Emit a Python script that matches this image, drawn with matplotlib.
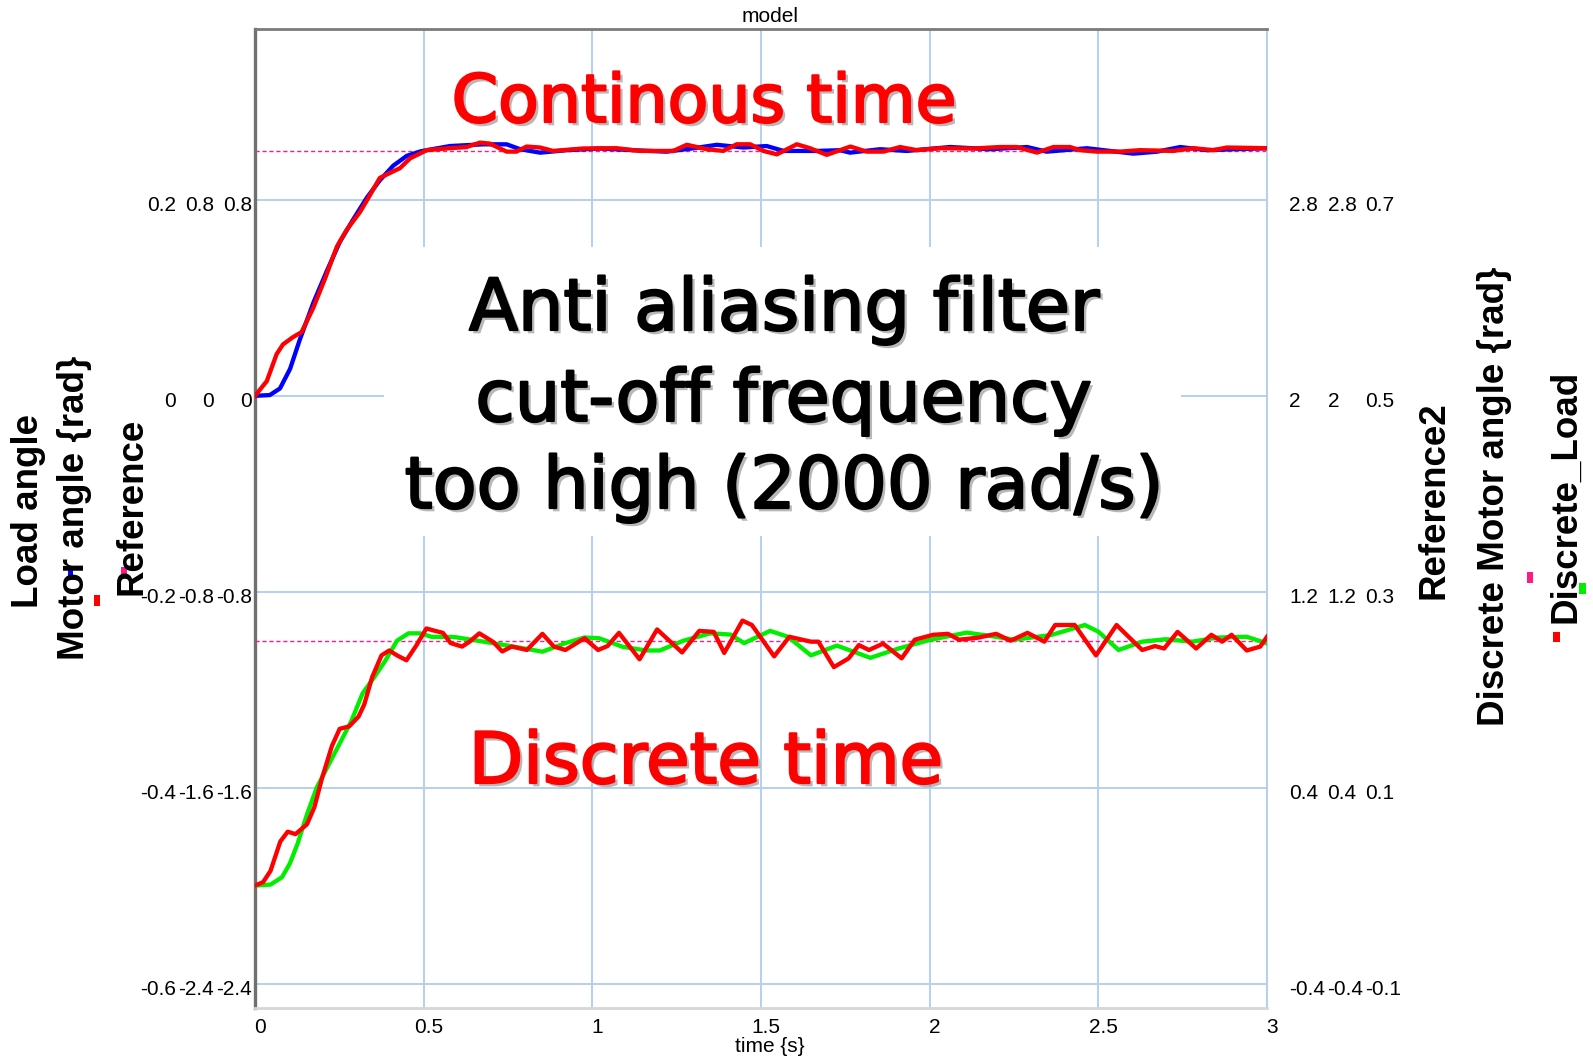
import numpy as np
import matplotlib
matplotlib.use("Agg")
import matplotlib.pyplot as plt
from matplotlib import patheffects as pe
from matplotlib.patches import Rectangle
from matplotlib.transforms import ScaledTranslation

plt.rcParams['font.family'] = ['Liberation Sans', 'DejaVu Sans']

# ---------------- data ----------------
time_ticks = [0, 0.5, 1, 1.5, 2, 2.5, 3]
load_ticks = [0.2, 0, -0.2, -0.4, -0.6]
motor_ticks = [0.8, 0, -0.8, -1.6, -2.4]
ref_ticks = [0.8, 0, -0.8, -1.6, -2.4]
ref2_ticks = [2.8, 2, 1.2, 0.4, -0.4]
dmotor_ticks = [2.8, 2, 1.2, 0.4, -0.4]
dload_ticks = [0.7, 0.5, 0.3, 0.1, -0.1]

# continuous time
t_motor = [0.000, 0.044, 0.074, 0.104, 0.133, 0.173, 0.213, 0.252, 0.291, 0.332,
           0.370, 0.410, 0.450, 0.490, 0.509, 0.578, 0.677, 0.746, 0.786, 0.845,
           0.924, 1.023, 1.122, 1.220, 1.300, 1.369, 1.448, 1.517, 1.567, 1.666,
           1.734, 1.764, 1.853, 1.932, 2.061, 2.180, 2.289, 2.347, 2.466, 2.604,
           2.674, 2.743, 2.822, 2.901, 3.000]
motor_angle = [0.000, 0.003, 0.030, 0.110, 0.230, 0.380, 0.510, 0.630, 0.720, 0.810,
               0.880, 0.940, 0.980, 0.998, 1.003, 1.020, 1.027, 1.027, 1.007, 0.993,
               1.003, 1.010, 1.003, 0.997, 1.011, 1.025, 1.014, 1.020, 1.000, 1.000,
               1.003, 0.993, 1.007, 1.000, 1.016, 1.007, 1.016, 0.997, 1.011, 0.989,
               0.997, 1.016, 1.003, 1.007, 1.011]

t_load = [0.000, 0.035, 0.064, 0.083, 0.113, 0.138, 0.173, 0.208, 0.243, 0.273,
          0.311, 0.341, 0.370, 0.400, 0.430, 0.460, 0.490, 0.509, 0.578, 0.627,
          0.667, 0.696, 0.746, 0.775, 0.805, 0.845, 0.884, 0.973, 1.072, 1.141,
          1.240, 1.280, 1.339, 1.388, 1.428, 1.468, 1.507, 1.547, 1.606, 1.645,
          1.695, 1.765, 1.813, 1.863, 1.912, 1.962, 2.031, 2.130, 2.209, 2.258,
          2.318, 2.367, 2.416, 2.446, 2.495, 2.564, 2.623, 2.722, 2.782, 2.841,
          2.881, 3.000]
load_angle = [0.0000, 0.0150, 0.0425, 0.0525, 0.0600, 0.0650, 0.0900, 0.1200, 0.1525, 0.1700,
              0.1875, 0.2050, 0.2225, 0.2275, 0.2325, 0.2425, 0.2475, 0.2508, 0.2528, 0.2540,
              0.2585, 0.2575, 0.2493, 0.2493, 0.2545, 0.2535, 0.2500, 0.2525, 0.2528, 0.2500,
              0.2500, 0.2563, 0.2518, 0.2500, 0.2568, 0.2568, 0.2500, 0.2465, 0.2568, 0.2528,
              0.2460, 0.2545, 0.2493, 0.2493, 0.2540, 0.2508, 0.2528, 0.2525, 0.2540, 0.2540,
              0.2483, 0.2540, 0.2540, 0.2508, 0.2493, 0.2493, 0.2508, 0.2500, 0.2528, 0.2508,
              0.2535, 0.2528]

t_ref = [0.0, 3.0]
reference = [1.0, 1.0]
reference2 = [1.0, 1.0]

# discrete time
t_dmotor = [0.000, 0.046, 0.080, 0.103, 0.126, 0.154, 0.183, 0.217, 0.251, 0.285,
            0.319, 0.353, 0.387, 0.421, 0.455, 0.489, 0.523, 0.591, 0.660, 0.750,
            0.852, 0.920, 0.977, 1.020, 1.090, 1.160, 1.200, 1.270, 1.350, 1.410,
            1.450, 1.527, 1.580, 1.648, 1.725, 1.824, 1.910, 2.000, 2.110, 2.196,
            2.250, 2.360, 2.460, 2.500, 2.560, 2.630, 2.700, 2.778, 2.855, 2.940,
            3.000]
discrete_motor = [0.000, 0.004, 0.034, 0.089, 0.170, 0.290, 0.400, 0.490, 0.580, 0.670,
                  0.785, 0.850, 0.920, 1.000, 1.030, 1.030, 1.016, 1.015, 1.000, 0.980,
                  0.955, 0.990, 1.013, 1.010, 0.975, 0.960, 0.960, 1.000, 1.030, 1.025,
                  0.990, 1.040, 1.016, 0.940, 0.980, 0.930, 0.969, 1.003, 1.033, 1.016,
                  1.004, 1.023, 1.064, 1.037, 0.962, 0.996, 1.006, 0.996, 1.013, 1.016,
                  0.989]

t_dload = [0.000, 0.024, 0.046, 0.075, 0.097, 0.120, 0.154, 0.176, 0.199, 0.228,
           0.251, 0.279, 0.307, 0.324, 0.347, 0.375, 0.398, 0.421, 0.449, 0.478,
           0.508, 0.534, 0.557, 0.580, 0.614, 0.636, 0.665, 0.705, 0.733, 0.761,
           0.806, 0.852, 0.886, 0.920, 0.977, 1.017, 1.045, 1.079, 1.140, 1.192,
           1.266, 1.317, 1.360, 1.391, 1.445, 1.473, 1.539, 1.584, 1.648, 1.670,
           1.716, 1.760, 1.790, 1.820, 1.862, 1.917, 1.956, 2.010, 2.054, 2.087,
           2.142, 2.197, 2.240, 2.290, 2.340, 2.372, 2.430, 2.493, 2.554, 2.630,
           2.668, 2.695, 2.735, 2.790, 2.835, 2.867, 2.895, 2.940, 2.980, 3.000]
discrete_load = [0.0000, 0.0035, 0.0150, 0.0450, 0.0550, 0.0525, 0.0625, 0.0800, 0.1100, 0.1425,
                 0.1600, 0.1625, 0.1725, 0.1850, 0.2125, 0.2350, 0.2400, 0.2350, 0.2300, 0.2450,
                 0.2625, 0.2600, 0.2580, 0.2475, 0.2440, 0.2490, 0.2575, 0.2490, 0.2390, 0.2440,
                 0.2405, 0.2570, 0.2440, 0.2405, 0.2525, 0.2405, 0.2445, 0.2580, 0.2310, 0.2615,
                 0.2380, 0.2600, 0.2590, 0.2375, 0.2705, 0.2660, 0.2340, 0.2540, 0.2490, 0.2490,
                 0.2230, 0.2320, 0.2455, 0.2405, 0.2470, 0.2320, 0.2510, 0.2560, 0.2570, 0.2510,
                 0.2530, 0.2570, 0.2500, 0.2580, 0.2490, 0.2660, 0.2660, 0.2350, 0.2660, 0.2405,
                 0.2445, 0.2420, 0.2590, 0.2420, 0.2560, 0.2490, 0.2560, 0.2400, 0.2440, 0.2540]

# ---------------- styling ----------------
W, H = 1593, 1059
L, R, T, B = 255, 1267, 28.5, 1008
GRID = '#b3cff0'
BLUE, RED, GREEN, PINK = '#0000ff', '#ff0000', '#00ee00', '#ff1a86'
LW = 3.1
TICK_FS = 15

fig = plt.figure(figsize=(W / 100, H / 100), dpi=100)
fig.patch.set_facecolor('white')
ax = fig.add_axes([L / W, 1 - B / H, (R - L) / W, (B - T) / H])


def fmt(vals):
    return [f"{v:g}" for v in vals]


ax.set_xlim(0, 3)
ax.set_ylim(-2.5, 1.5)
ax.set_xticks(time_ticks, fmt(time_ticks))
ax.set_yticks(ref_ticks, fmt(ref_ticks))
ax.grid(True, color=GRID, lw=1.4)
ax.set_axisbelow(True)
ax.tick_params(axis='both', length=0, labelsize=TICK_FS)
ax.tick_params(axis='y', pad=2.2)
ax.tick_params(axis='x', pad=7)
ax.spines['left'].set_color('#707070')
ax.spines['left'].set_linewidth(2.4)
ax.spines['top'].set_color('#7a7a7a')
ax.spines['top'].set_linewidth(2.0)
ax.spines['bottom'].set_color('#d6d6d6')
ax.spines['bottom'].set_linewidth(2.0)
ax.spines['right'].set_color(GRID)
ax.spines['right'].set_linewidth(1.4)

ax.plot(t_ref, reference, color=PINK, lw=1.0, dashes=(3, 2))


def make_twin(ylim, ticks, side, pad):
    a = ax.twinx()
    a.set_ylim(*ylim)
    a.set_yticks(ticks, fmt(ticks))
    if side == 'left':
        a.yaxis.tick_left()
    else:
        a.yaxis.tick_right()
    a.tick_params(axis='y', length=0, labelsize=TICK_FS, pad=pad)
    for s in a.spines.values():
        s.set_visible(False)
    a.patch.set_visible(False)
    return a


ax_ref2 = make_twin((-0.5, 3.5), ref2_ticks, 'right', 16.0)
ax_ref2.plot(t_ref, reference2, color=PINK, lw=1.0, dashes=(3, 2))

ax_motor = make_twin((-2.5, 1.5), motor_ticks, 'left', 29.5)
ax_motor.plot(t_motor, motor_angle, color=BLUE, lw=LW, solid_joinstyle='round')

ax_load = make_twin((-0.625, 0.375), load_ticks, 'left', 56.9)
ax_load.plot(t_load, load_angle, color=RED, lw=LW, solid_joinstyle='round')

ax_dmotor = make_twin((-0.5, 3.5), dmotor_ticks, 'right', 43.6)
ax_dmotor.plot(t_dmotor, discrete_motor, color=GREEN, lw=LW, solid_joinstyle='round')

ax_dload = make_twin((-0.125, 0.875), dload_ticks, 'right', 71.0)
ax_dload.plot(t_dload, discrete_load, color=RED, lw=LW, solid_joinstyle='round')

# small offset of tick labels (down / right), as in the original rendering
for a in [ax, ax_ref2, ax_motor, ax_load, ax_dmotor, ax_dload]:
    for lbl in a.yaxis.get_ticklabels():
        lbl.set_transform(lbl.get_transform() + ScaledTranslation(0, -4 / 100, fig.dpi_scale_trans))
for lbl in ax.xaxis.get_ticklabels():
    lbl.set_transform(lbl.get_transform() + ScaledTranslation(5 / 100, 0, fig.dpi_scale_trans))

ax.set_xlabel('time {s}', fontsize=TICK_FS)
ax.xaxis.label.set_va('center')
ax.xaxis.set_label_coords((770 - L) / (R - L), -(1046 - B) / (B - T))

fig.text(770 / W, 1 - 17 / H, 'model', ha='center', va='center', fontsize=TICK_FS)


def fx(x):
    return x / W


def fy(y):
    return 1 - y / H


# axis titles
lab_kw = dict(rotation=90, ha='center', va='center', fontsize=26.5, fontweight='bold')
fig.text(fx(29), fy(511), 'Load angle', **lab_kw)
fig.text(fx(75), fy(508), 'Motor angle {rad}', **lab_kw)
fig.text(fx(132), fy(506), 'Reference', **lab_kw)
fig.text(fx(1434), fy(500), 'Reference2', **lab_kw)
fig.text(fx(1495), fy(496), 'Discrete Motor angle {rad}', **lab_kw)
fig.text(fx(1566), fy(496), 'Discrete_Load', **lab_kw)

# legend swatches
for (x0, y0, x1, y1, c) in [(68, 570, 73, 578, BLUE), (94, 595, 100, 606, RED),
                            (121, 567, 127, 578, PINK), (1527, 572, 1533, 583, PINK),
                            (1579, 583, 1586, 594, GREEN), (1553, 632, 1560, 642, RED)]:
    fig.add_artist(Rectangle((fx(x0), fy(y1)), (x1 - x0) / W, (y1 - y0) / H,
                             transform=fig.transFigure, color=c, lw=0))

# white panel behind the annotation
fig.add_artist(Rectangle((fx(384), fy(536)), (1181 - 384) / W, (536 - 247) / H,
                         transform=fig.transFigure, facecolor='white', edgecolor='none', zorder=1))


def shadow(color):
    return [pe.SimplePatchShadow(offset=(2.4, -2.4), shadow_rgbFace='#9a9a9a', alpha=0.7),
            pe.withStroke(linewidth=1.6, foreground=color)]


big = dict(family='DejaVu Sans', ha='center', va='baseline', zorder=5)

t_cont = fig.text(fx(704), fy(122), 'Continous time', color=RED, fontsize=50,
                  path_effects=shadow(RED), **big)
t_disc = fig.text(fx(706), fy(783), 'Discrete time', color=RED, fontsize=50,
                  path_effects=shadow(RED), **big)
lines = ['Anti aliasing filter', 'cut-off frequency', 'too high (2000 rad/s)']
bases = [330, 421, 508]
t_anti = [fig.text(fx(784), fy(b), s, color='black', fontsize=50,
                   path_effects=shadow('black'), **big)
          for s, b in zip(lines, bases)]

renderer = fig.canvas.get_renderer()


def fit(txts, targets):
    widths = [t.get_window_extent(renderer).width for t in txts]
    k = sum(targets) / sum(widths)
    for t in txts:
        t.set_fontsize(t.get_fontsize() * k)


fit([t_cont], [505])
fit([t_disc], [475])
fit(t_anti, [632, 621, 755])

fig.savefig('out.png', dpi=100, facecolor='white')
